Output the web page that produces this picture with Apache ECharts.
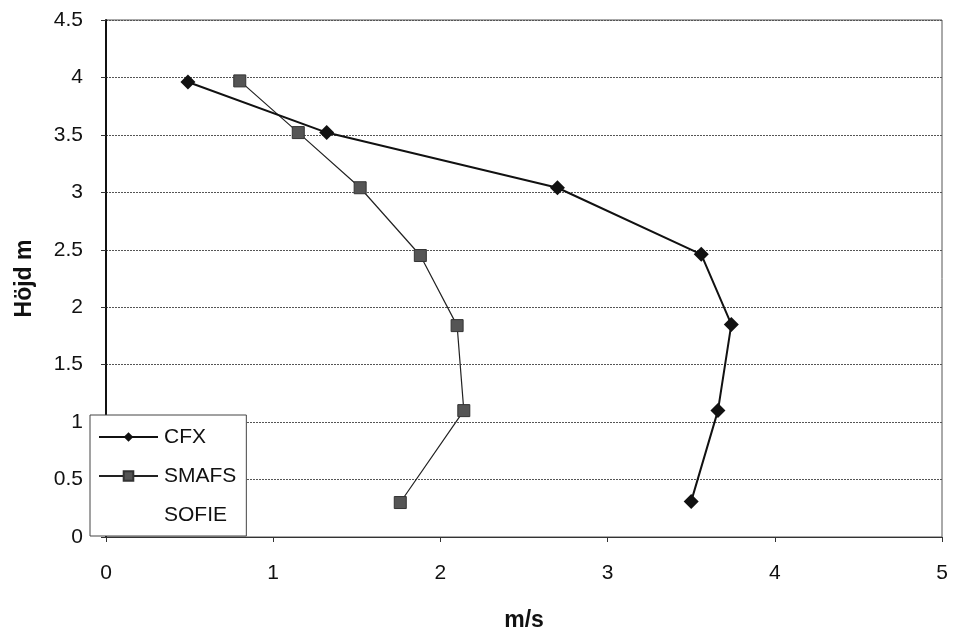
<!DOCTYPE html>
<html>
<head>
<meta charset="utf-8">
<script src="https://cdn.jsdelivr.net/npm/echarts@6/dist/echarts.min.js"></script>
<style>
html,body{margin:0;padding:0;background:#fff;}
#chart{width:954px;height:640px;}
</style>
</head>
<body>
<div id="chart"></div>
<script>
// Data (x = m/s, y = height m)
var cfxSpeed   = [0.49, 1.32, 2.70, 3.56, 3.74, 3.66, 3.50];
var cfxHeight  = [3.96, 3.52, 3.04, 2.46, 1.85, 1.10, 0.31];
var smafsSpeed = [0.80, 1.15, 1.52, 1.88, 2.10, 2.14, 1.76];
var smafsHeight= [3.97, 3.52, 3.04, 2.45, 1.84, 1.10, 0.30];
var seriesNames = ['CFX', 'SMAFS', 'SOFIE'];
var xTitle = 'm/s';
var yTitle = 'Höjd m';

function pairs(xs, ys) { return xs.map(function (x, i) { return [x, ys[i]]; }); }

var FONT = 'Liberation Sans, Arial, sans-serif';
var chart = echarts.init(document.getElementById('chart'), null, {renderer: 'canvas'});
chart.setOption({
  animation: false,
  backgroundColor: '#fff',
  grid: {left: 106, right: 12, top: 20, bottom: 103, show: true, borderColor: '#555', borderWidth: 1, backgroundColor: 'transparent'},
  xAxis: {
    type: 'value', min: 0, max: 5, interval: 1,
    name: xTitle, nameLocation: 'middle', nameGap: 72,
    nameTextStyle: {fontFamily: FONT, fontSize: 23, fontWeight: 'bold', color: '#111'},
    axisLine: {show: true, lineStyle: {color: '#333', width: 1}},
    axisTick: {show: true, length: 5, lineStyle: {color: '#333'}},
    axisLabel: {fontFamily: FONT, fontSize: 21, color: '#111', margin: 26},
    splitLine: {show: false}
  },
  yAxis: {
    type: 'value', min: 0, max: 4.5, interval: 0.5,
    name: yTitle, nameLocation: 'middle', nameGap: 70, nameRotate: 90,
    nameTextStyle: {fontFamily: FONT, fontSize: 23, fontWeight: 'bold', color: '#111'},
    axisLine: {show: true, lineStyle: {color: '#111', width: 2}},
    axisTick: {show: true, length: 5, lineStyle: {color: '#333'}},
    axisLabel: {fontFamily: FONT, fontSize: 21, color: '#111', margin: 23},
    splitLine: {show: true, lineStyle: {color: '#555', width: 1, type: [2, 1]}}
  },
  legend: {
    orient: 'vertical', left: 90, top: 415,
    data: seriesNames,
    backgroundColor: '#fff', borderColor: '#444', borderWidth: 1,
    padding: [11, 10, 10, 8],
    itemWidth: 59, itemHeight: 12, itemGap: 17,
    textStyle: {fontFamily: FONT, fontSize: 21, color: '#111', lineHeight: 22, padding: [0, 0, 0, 1]}
  },
  series: [
    {
      name: seriesNames[0], type: 'line', data: pairs(cfxSpeed, cfxHeight),
      symbol: 'diamond', symbolSize: 15,
      itemStyle: {color: '#111'},
      lineStyle: {color: '#111', width: 2}, z: 3
    },
    {
      name: seriesNames[1], type: 'line', data: pairs(smafsSpeed, smafsHeight),
      symbol: 'rect', symbolSize: 12,
      itemStyle: {color: '#555', borderColor: '#333', borderWidth: 1},
      lineStyle: {color: '#222', width: 1.2}, z: 2
    },
    {
      name: seriesNames[2], type: 'line', data: [],
      symbol: 'none', itemStyle: {opacity: 0}, lineStyle: {opacity: 0}
    }
  ]
});
</script>
</body>
</html>
